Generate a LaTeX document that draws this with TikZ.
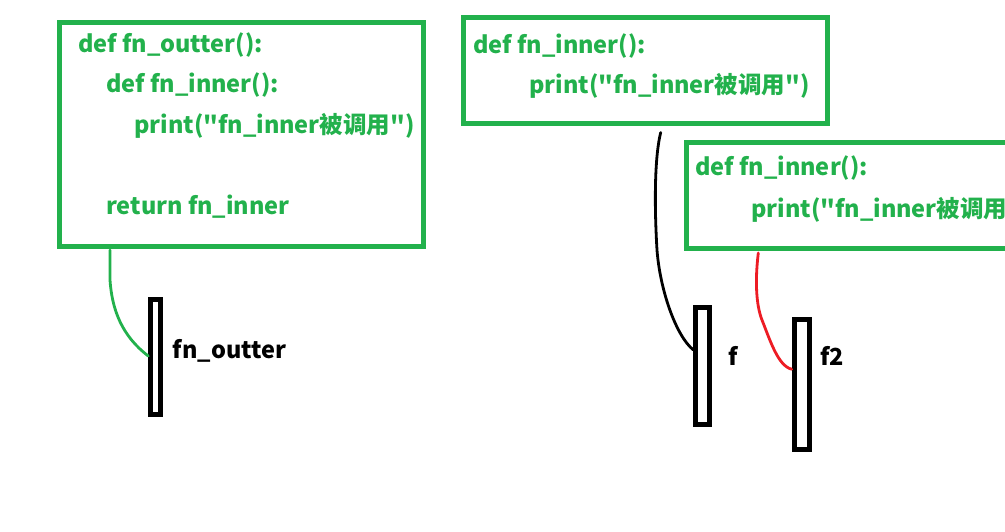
\documentclass[tikz,border=0pt]{standalone}
\usepackage{fontspec}
\newfontfamily\codefont{Noto Sans CJK SC}
\definecolor{pgreen}{HTML}{22B14C}
\definecolor{pred}{HTML}{ED1C24}
\tikzset{
  codebox/.style={draw=pgreen, line width=5pt, rectangle, inner sep=0pt, outer sep=0pt},
  barbox/.style={draw=black, line width=5pt, rectangle, inner sep=0pt, outer sep=2.5pt},
  codetxt/.style={anchor=base west, inner sep=0pt, text=pgreen, font=\codefont\fontsize{23.5}{28}\selectfont\bfseries},
  lbltxt/.style={anchor=base west, inner sep=0pt, text=black, font=\codefont\fontsize{23.5}{28}\selectfont\bfseries},
  link/.style={line width=2.8pt, line cap=round, line join=round}
}
\begin{document}
\begin{tikzpicture}[x=1pt,y=-1pt]
\useasboundingbox[fill=white] (0,0) rectangle (1005,531);
\clip (0,0) rectangle (1005,531);
% boxes
\node[codebox, minimum width=364pt, minimum height=223.5pt] (box1) at (241.5,134.25) {};
\node[codebox, minimum width=364pt, minimum height=106pt] (box2) at (645.5,70.5) {};
\node[codebox, minimum width=344pt, minimum height=106pt] (box3) at (858,195) {};
% texts box1
\node[codetxt] (t11) at (78,52) {def fn\_outter():};
\node[codetxt] (t12) at (106,92.5) {def fn\_inner():};
\node[codetxt] (t13) at (134,133) {print("fn\_inner被调用")};
\node[codetxt] (t14) at (106,214) {return fn\_inner};
% texts box2
\node[codetxt] (t21) at (473,53) {def fn\_inner():};
\node[codetxt] (t22) at (529,93.5) {print("fn\_inner被调用")};
% texts box3
\node[codetxt] (t31) at (695,175.5) {def fn\_inner():};
\node[codetxt] (t32) at (751,217) {print("fn\_inner被调用")};
% bars
\node[barbox, minimum width=9.4pt, minimum height=114.4pt] (bar1) at (155.5,357) {};
\node[barbox, minimum width=13.4pt, minimum height=116.7pt] (barf) at (702.5,365.85) {};
\node[barbox, minimum width=15pt, minimum height=130pt] (barf2) at (801.7,384.2) {};
% labels
\node[lbltxt] (l1) at (172.7,358.3) {fn\_outter};
\node[lbltxt] (l2) at (728,365) {f};
\node[lbltxt] (l3) at (820,365) {f2};
% connectors
\coordinate (g0) at ([yshift=-4pt]box1.south -| 110,0);
\coordinate (k0) at ([yshift=-9pt]box2.south -| 660.7,0);
\coordinate (r0) at ([yshift=-5pt]box3.south -| 758.3,0);
\draw[link, pgreen] (g0) -- (110,280) .. controls (112,310) and (122,336) .. ([yshift=1pt]bar1.west);
\draw[link, black] (k0) .. controls (655,155) and (654,200) .. (657,250) .. controls (660,290) and (676,336) .. ([yshift=16pt]barf.west);
\draw[link, pred] (r0) .. controls (755,280) and (756,305) .. (762,320) .. controls (770,340) and (778,366) .. ([yshift=15pt]barf2.west);
\end{tikzpicture}
\end{document}
